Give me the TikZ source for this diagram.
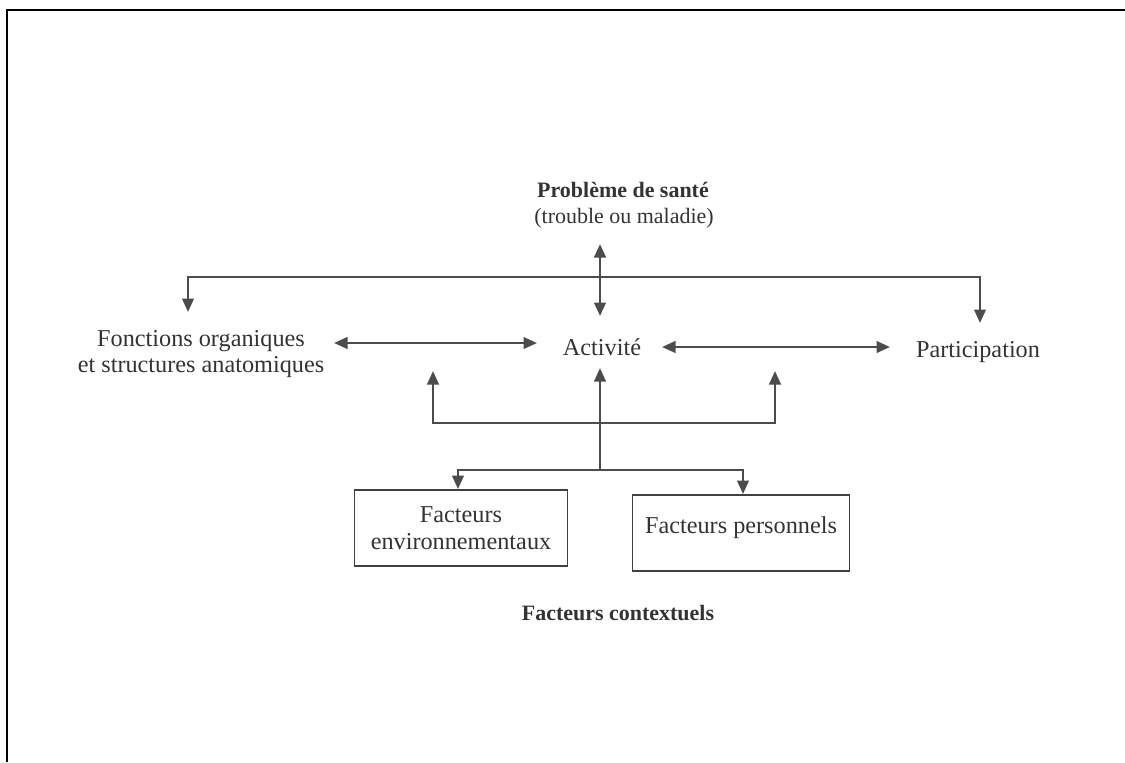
\documentclass[tikz,border=0pt]{standalone}
\usepackage{fontspec}
\setmainfont{Liberation Serif}
\usetikzlibrary{arrows.meta}
\tikzset{
  lbl/.style={font=\fontsize{13.8}{15}\selectfont, text=black!80, inner sep=1pt},
  toplbl/.style={lbl, font=\fontsize{12.5}{15}\selectfont},
  boldlbl/.style={lbl, font=\fontsize{12.5}{15}\selectfont\bfseries},
  factbox/.style={lbl, draw=black!75, line width=1.1pt, align=center,
                  minimum width=4.26cm, minimum height=1.52cm},
  link/.style={draw=black!70, line width=1.4pt},
  >={Triangle[length=2.7mm,width=2.3mm]}
}
\begin{document}
\begin{tikzpicture}[x=0.02cm,y=-0.02cm]
  \useasboundingbox (0,0) rectangle (1125,762);
  % frame
  \draw[line width=1.6pt] (7,762) -- (7,10) -- (1125,10);
  % labels
  \node[boldlbl] (sante) at (623,190) {Problème de santé};
  \node[toplbl] (trouble) at (624,218) {(trouble ou maladie)};
  \node[lbl, align=center] (fonctions) at (201,354) {Fonctions organiques\\et structures anatomiques};
  \node[lbl] (activite) at (602,347) {Activité};
  \node[lbl] (particip) at (978,352) {Participation};
  \node[factbox] (env) at (461,528) {Facteurs\\environnementaux};
  \node[factbox, minimum width=4.34cm, text depth=9pt] (perso) at (741,533) {Facteurs personnels};
  \node[boldlbl] (context) at (618,613) {Facteurs contextuels};
  % points on the connectors
  \coordinate (topL) at (188,277);
  \coordinate (topR) at (980,277);
  \coordinate (tipL) at (188,312);
  \coordinate (tipR) at (980,323);
  \coordinate (hiA) at (600,244);
  \coordinate (loA) at (600,316);
  \coordinate (midL) at (433,423);
  \coordinate (midR) at (775,423);
  \coordinate (upL) at (433,371);
  \coordinate (upR) at (775,371);
  \coordinate (upA) at (600,368);
  \coordinate (foot) at (600,470);
  \coordinate (forkL) at (458,470);
  \coordinate (forkR) at (743,470);
  % connectors
  \draw[link,->] (topL) -- (topR) -- (tipR);
  \draw[link,->] (topR) -- (topL) -- (tipL);
  \draw[link,<->] (hiA) -- (loA);
  \draw[link,<->] (334,343) -- (537,343);
  \draw[link,<->] (662,347) -- (890,347);
  \draw[link,->] (midR) -- (midL) -- (upL);
  \draw[link,->] (midL) -- (midR) -- (upR);
  \draw[link,->] (foot) -- (upA);
  \draw[link,->] (forkR) -- (forkL) -- (env.north -| forkL);
  \draw[link,->] (forkL) -- (forkR) -- (perso.north -| forkR);
\end{tikzpicture}
\end{document}
